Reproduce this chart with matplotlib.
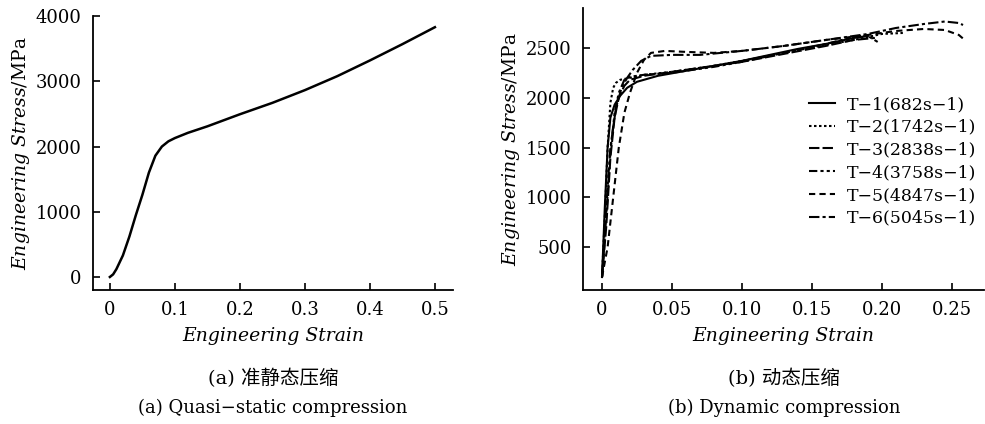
import matplotlib
matplotlib.use("Agg")
import matplotlib.pyplot as plt

plt.rcParams["font.family"] = ["DejaVu Serif", "Noto Sans CJK SC"]
plt.rcParams["mathtext.fontset"] = "dejavuserif"
plt.rcParams["axes.unicode_minus"] = False

# (a) quasi-static compression
qs_strain = [0.0, 0.005, 0.01, 0.02, 0.03, 0.04, 0.05, 0.06, 0.07, 0.08, 0.09, 0.1,
             0.12, 0.15, 0.2, 0.25, 0.3, 0.35, 0.4, 0.45, 0.5]
qs_stress = [0, 40, 120, 330, 620, 950, 1260, 1600, 1860, 2000, 2080, 2130,
             2210, 2310, 2495, 2670, 2865, 3080, 3320, 3570, 3830]

# (b) dynamic compression
labels = ["T\u22121(682s\u22121)", "T\u22122(1742s\u22121)", "T\u22123(2838s\u22121)",
          "T\u22124(3758s\u22121)", "T\u22125(4847s\u22121)", "T\u22126(5045s\u22121)"]

t1_strain = [0, 0.002, 0.004, 0.006, 0.009, 0.013, 0.018, 0.025, 0.04, 0.06, 0.08,
             0.10, 0.12, 0.14, 0.16, 0.18, 0.19]
t1_stress = [200, 900, 1500, 1800, 1930, 2020, 2100, 2160, 2220, 2270, 2320,
             2370, 2430, 2490, 2540, 2600, 2620]

t2_strain = [0, 0.002, 0.004, 0.006, 0.008, 0.010, 0.013, 0.02, 0.03, 0.05, 0.08,
             0.10, 0.13, 0.16, 0.18, 0.20, 0.215]
t2_stress = [200, 800, 1500, 1950, 2100, 2150, 2180, 2200, 2230, 2260, 2320,
             2370, 2450, 2530, 2580, 2640, 2650]

t3_strain = [0, 0.003, 0.006, 0.009, 0.012, 0.016, 0.02, 0.03, 0.05, 0.08, 0.10,
             0.13, 0.16, 0.18, 0.195]
t3_stress = [200, 700, 1400, 1800, 2000, 2120, 2180, 2220, 2260, 2320, 2360,
             2440, 2520, 2580, 2600]

t4_strain = [0, 0.003, 0.006, 0.009, 0.012, 0.016, 0.02, 0.03, 0.05, 0.08, 0.10,
             0.13, 0.16, 0.18, 0.19, 0.197]
t4_stress = [200, 800, 1450, 1850, 2050, 2180, 2210, 2230, 2250, 2310, 2360,
             2450, 2540, 2610, 2620, 2560]

t5_strain = [0, 0.004, 0.008, 0.012, 0.016, 0.02, 0.025, 0.03, 0.035, 0.045, 0.06,
             0.08, 0.10, 0.13, 0.16, 0.19, 0.21, 0.23, 0.245, 0.255, 0.26]
t5_stress = [200, 500, 1000, 1500, 1850, 2050, 2250, 2380, 2450, 2470, 2460,
             2450, 2470, 2520, 2580, 2630, 2670, 2690, 2680, 2630, 2570]

t6_strain = [0, 0.003, 0.006, 0.01, 0.014, 0.018, 0.022, 0.028, 0.035, 0.05, 0.07,
             0.10, 0.13, 0.16, 0.19, 0.21, 0.23, 0.245, 0.255, 0.258]
t6_stress = [200, 900, 1500, 1900, 2100, 2200, 2280, 2370, 2420, 2430, 2430,
             2470, 2520, 2580, 2640, 2700, 2740, 2765, 2750, 2730]

styles = ["-", (0, (1.2, 1.2)), (0, (5, 1.5)), (0, (4, 1.5, 1.5, 1.5, 1.5, 1.5)),
          (0, (3, 2)), (0, (5, 1.5, 1.5, 1.5))]

fig = plt.figure(figsize=(9.85, 4.24), dpi=100)
ax1 = fig.add_axes([0.0944, 0.316, 0.3656, 0.646])
ax2 = fig.add_axes([0.592, 0.316, 0.407, 0.665])

for ax in (ax1, ax2):
    for s in ("top", "right"):
        ax.spines[s].set_visible(False)
    ax.spines["left"].set_linewidth(1.3)
    ax.spines["bottom"].set_linewidth(1.3)
    ax.tick_params(direction="in", length=5, width=1.2, labelsize=13, pad=8)
    ax.set_ylabel(r"$\it{Engineering\ Stress}$/MPa", fontsize=13.5, labelpad=3)
    ax.set_xlabel("Engineering Strain", fontsize=13.5, style="italic", labelpad=6)

ax1.plot(qs_strain, qs_stress, color="black", lw=1.8)
ax1.set_xlim(-0.026, 0.528)
ax1.set_ylim(-200, 4000)
ax1.set_xticks([0, 0.1, 0.2, 0.3, 0.4, 0.5])
ax1.set_xticklabels(["0", "0.1", "0.2", "0.3", "0.4", "0.5"])
ax1.set_yticks([0, 1000, 2000, 3000, 4000])

dyn = [(t1_strain, t1_stress), (t2_strain, t2_stress), (t3_strain, t3_stress),
       (t4_strain, t4_stress), (t5_strain, t5_stress), (t6_strain, t6_stress)]
for (x, y), ls, lab in zip(dyn, styles, labels):
    ax2.plot(x, y, color="black", lw=1.5, linestyle=ls, label=lab)
ax2.set_xlim(-0.0135, 0.273)
ax2.set_ylim(70, 2900)
ax2.set_xticks([0, 0.05, 0.10, 0.15, 0.20, 0.25])
ax2.set_xticklabels(["0", "0.05", "0.10", "0.15", "0.20", "0.25"])
ax2.set_yticks([500, 1000, 1500, 2000, 2500])

fig.legend(loc="upper left", bbox_to_anchor=(809 / 985, 1 - 96 / 424), frameon=False,
           fontsize=12.5, handlelength=1.5, handletextpad=0.7, labelspacing=0.33,
           borderpad=0, borderaxespad=0)

fig.text(273 / 985, 1 - 378 / 424, "(a) 准静态压缩", ha="center", va="center", fontsize=14)
fig.text(273 / 985, 1 - 408 / 424, "(a) Quasi\u2212static compression", ha="center", va="center", fontsize=13)
fig.text(784 / 985, 1 - 378 / 424, "(b) 动态压缩", ha="center", va="center", fontsize=14)
fig.text(784 / 985, 1 - 408 / 424, "(b) Dynamic compression", ha="center", va="center", fontsize=13)

fig.savefig("out.png", dpi=100)
